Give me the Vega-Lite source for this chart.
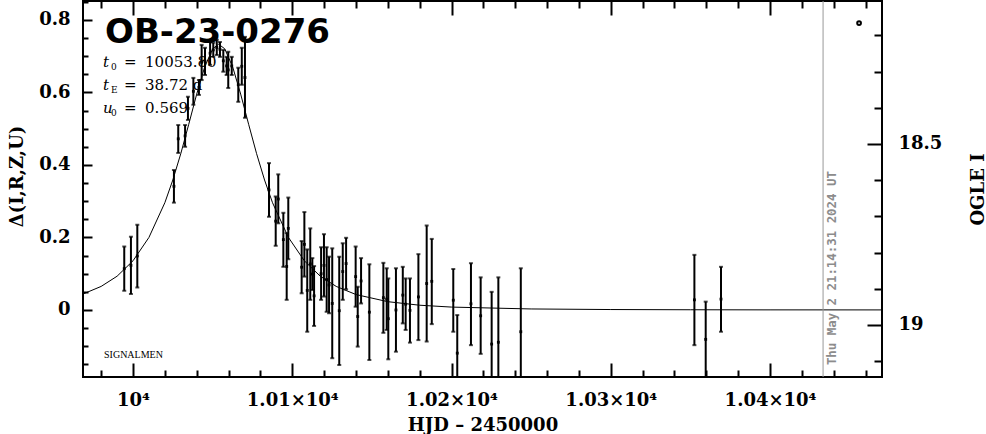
{
  "$schema": "https://vega.github.io/schema/vega-lite/v6.json",
  "width": 799,
  "height": 376,
  "autosize": {"type": "none"},
  "padding": {"left": 83, "top": 1, "right": 104, "bottom": 57},
  "background": "white",
  "config": {
    "view": {"stroke": "black", "strokeWidth": 2},
    "axis": {
      "grid": false, "domain": false, "tickColor": "black", "tickWidth": 2,
      "labelColor": "black", "titleColor": "black",
      "labelFont": "DejaVu Serif", "labelFontSize": 18, "labelFontWeight": "bold",
      "titleFont": "DejaVu Serif", "titleFontSize": 18, "titleFontWeight": "bold",
      "labelFlush": false, "labelOverlap": false
    }
  },
  "datasets": {
    "curve": [
      {"d": 9968.6, "v": 0.044}, {"d": 9980, "v": 0.065}, {"d": 9990, "v": 0.0931},
      {"d": 10000, "v": 0.1356}, {"d": 10010, "v": 0.2}, {"d": 10020, "v": 0.2958},
      {"d": 10025, "v": 0.3584}, {"d": 10030, "v": 0.4311}, {"d": 10035, "v": 0.512},
      {"d": 10040, "v": 0.5953}, {"d": 10045, "v": 0.67}, {"d": 10050, "v": 0.7202},
      {"d": 10053.8, "v": 0.7329}, {"d": 10057.6, "v": 0.7202}, {"d": 10062.6, "v": 0.67},
      {"d": 10067.6, "v": 0.5953}, {"d": 10072.6, "v": 0.512}, {"d": 10077.6, "v": 0.4311},
      {"d": 10082.6, "v": 0.3584}, {"d": 10087.6, "v": 0.2958}, {"d": 10097.6, "v": 0.2},
      {"d": 10107.6, "v": 0.1356}, {"d": 10117.6, "v": 0.0931}, {"d": 10127.6, "v": 0.065},
      {"d": 10140, "v": 0.0426}, {"d": 10160, "v": 0.0229}, {"d": 10180, "v": 0.0131},
      {"d": 10200, "v": 0.008}, {"d": 10250, "v": 0.0028}, {"d": 10300, "v": 0.0012},
      {"d": 10350, "v": 0.0006}, {"d": 10400, "v": 0.0003}, {"d": 10470.3, "v": 0.0002}
    ],
    "obs": [
      {"d": 9994.5, "v": 0.114, "lo": 0.053, "hi": 0.175},
      {"d": 9998.7, "v": 0.123, "lo": 0.044, "hi": 0.202},
      {"d": 10002.7, "v": 0.149, "lo": 0.062, "hi": 0.235},
      {"d": 10025.7, "v": 0.341, "lo": 0.296, "hi": 0.386},
      {"d": 10028.4, "v": 0.472, "lo": 0.433, "hi": 0.51},
      {"d": 10032.7, "v": 0.48, "lo": 0.45, "hi": 0.51},
      {"d": 10034.5, "v": 0.556, "lo": 0.524, "hi": 0.588},
      {"d": 10037.9, "v": 0.603, "lo": 0.566, "hi": 0.64},
      {"d": 10041.4, "v": 0.614, "lo": 0.593, "hi": 0.634},
      {"d": 10043.1, "v": 0.683, "lo": 0.634, "hi": 0.731},
      {"d": 10045.2, "v": 0.686, "lo": 0.648, "hi": 0.723},
      {"d": 10048.4, "v": 0.708, "lo": 0.676, "hi": 0.739},
      {"d": 10050.4, "v": 0.717, "lo": 0.698, "hi": 0.737},
      {"d": 10052.6, "v": 0.724, "lo": 0.703, "hi": 0.745},
      {"d": 10054.6, "v": 0.719, "lo": 0.698, "hi": 0.739},
      {"d": 10056.7, "v": 0.687, "lo": 0.657, "hi": 0.717},
      {"d": 10058.8, "v": 0.673, "lo": 0.648, "hi": 0.698},
      {"d": 10059.8, "v": 0.662, "lo": 0.612, "hi": 0.712},
      {"d": 10062.0, "v": 0.673, "lo": 0.648, "hi": 0.698},
      {"d": 10066.1, "v": 0.621, "lo": 0.574, "hi": 0.668},
      {"d": 10068.3, "v": 0.672, "lo": 0.621, "hi": 0.723},
      {"d": 10070.3, "v": 0.641, "lo": 0.53, "hi": 0.753},
      {"d": 10085.4, "v": 0.331, "lo": 0.257, "hi": 0.405},
      {"d": 10089.6, "v": 0.245, "lo": 0.177, "hi": 0.313},
      {"d": 10091.2, "v": 0.306, "lo": 0.239, "hi": 0.374},
      {"d": 10094.4, "v": 0.194, "lo": 0.119, "hi": 0.268},
      {"d": 10096.5, "v": 0.12, "lo": 0.028, "hi": 0.212},
      {"d": 10097.5, "v": 0.225, "lo": 0.14, "hi": 0.31},
      {"d": 10105.9, "v": 0.118, "lo": 0.046, "hi": 0.19},
      {"d": 10107.6, "v": 0.181, "lo": 0.092, "hi": 0.27},
      {"d": 10109.4, "v": 0.054, "lo": -0.06, "hi": 0.167},
      {"d": 10111.3, "v": 0.127, "lo": 0.028, "hi": 0.225},
      {"d": 10112.6, "v": 0.099, "lo": 0.055, "hi": 0.143},
      {"d": 10113.7, "v": 0.039, "lo": -0.044, "hi": 0.121},
      {"d": 10118.1, "v": 0.1, "lo": 0.028, "hi": 0.173},
      {"d": 10119.9, "v": 0.123, "lo": 0.037, "hi": 0.209},
      {"d": 10121.6, "v": 0.084, "lo": -0.005, "hi": 0.173},
      {"d": 10123.1, "v": 0.069, "lo": -0.009, "hi": 0.147},
      {"d": 10125.1, "v": 0.018, "lo": -0.133, "hi": 0.17},
      {"d": 10129.5, "v": -0.002, "lo": -0.152, "hi": 0.147},
      {"d": 10131.7, "v": 0.106, "lo": 0.028, "hi": 0.184},
      {"d": 10133.8, "v": 0.128, "lo": 0.057, "hi": 0.199},
      {"d": 10139.8, "v": 0.092, "lo": 0.009, "hi": 0.175},
      {"d": 10141.1, "v": -0.018, "lo": -0.101, "hi": 0.064},
      {"d": 10143.2, "v": 0.08, "lo": 0.018, "hi": 0.143},
      {"d": 10148.4, "v": -0.006, "lo": -0.138, "hi": 0.126},
      {"d": 10157.2, "v": 0.034, "lo": -0.063, "hi": 0.13},
      {"d": 10159.3, "v": 0.03, "lo": -0.055, "hi": 0.115},
      {"d": 10160.3, "v": -0.024, "lo": -0.136, "hi": 0.087},
      {"d": 10165.1, "v": 0.0, "lo": -0.115, "hi": 0.115},
      {"d": 10169.4, "v": 0.041, "lo": -0.037, "hi": 0.119},
      {"d": 10171.2, "v": 0.016, "lo": -0.055, "hi": 0.087},
      {"d": 10173.9, "v": -0.001, "lo": -0.09, "hi": 0.087},
      {"d": 10179.2, "v": 0.036, "lo": -0.083, "hi": 0.154},
      {"d": 10184.4, "v": 0.073, "lo": -0.087, "hi": 0.233},
      {"d": 10187.6, "v": 0.079, "lo": -0.039, "hi": 0.196},
      {"d": 10201.1, "v": 0.027, "lo": -0.06, "hi": 0.113},
      {"d": 10203.6, "v": -0.119, "lo": -0.225, "hi": -0.014},
      {"d": 10212.2, "v": 0.017, "lo": -0.097, "hi": 0.129},
      {"d": 10218.3, "v": -0.016, "lo": -0.121, "hi": 0.09},
      {"d": 10225.2, "v": -0.094, "lo": -0.238, "hi": 0.05},
      {"d": 10229.4, "v": -0.089, "lo": -0.268, "hi": 0.09},
      {"d": 10243.5, "v": -0.06, "lo": -0.235, "hi": 0.115},
      {"d": 10352.5, "v": 0.028, "lo": -0.097, "hi": 0.152},
      {"d": 10359.6, "v": -0.081, "lo": -0.185, "hi": 0.023},
      {"d": 10369.2, "v": 0.03, "lo": -0.06, "hi": 0.119}
    ],
    "params": [
      {"sym": "t", "sub": "0", "val": "10053.80", "d": 9981.2, "v": 0.67},
      {"sym": "t", "sub": "E", "val": "38.72 d", "d": 9981.2, "v": 0.607},
      {"sym": "u", "sub": "0", "val": "0.569", "d": 9981.2, "v": 0.543}
    ]
  },
  "layer": [
    {
      "data": {"name": "curve"},
      "mark": {"type": "line", "color": "black", "strokeWidth": 1, "clip": true},
      "encoding": {
        "x": {
          "field": "d", "type": "quantitative",
          "scale": {"domain": [9968.6, 10470.3], "nice": false, "zero": false},
          "axis": {
            "orient": "bottom",
            "values": [9980, 10000, 10020, 10040, 10060, 10080, 10100, 10120, 10140, 10160, 10180, 10200, 10220, 10240, 10260, 10280, 10300, 10320, 10340, 10360, 10380, 10400, 10420, 10440, 10460],
            "labelExpr": "datum.value % 100 == 0 ? (datum.value == 10000 ? '10⁴' : format(datum.value / 10000, '.2f') + '×10⁴') : ''",
            "tickSize": {"condition": {"test": "datum.value % 100 == 0", "value": -14}, "value": -7},
            "labelPadding": 28,
            "labelOverlap": false,
            "title": "HJD – 2450000",
            "titleY": 53, "titleBaseline": "alphabetic"
          }
        },
        "y": {
          "field": "v", "type": "quantitative",
          "scale": {"domain": [-0.1848, 0.852], "nice": false, "zero": false},
          "axis": {
            "orient": "left",
            "values": [-0.15, -0.1, -0.05, 0, 0.05, 0.1, 0.15, 0.2, 0.25, 0.3, 0.35, 0.4, 0.45, 0.5, 0.55, 0.6, 0.65, 0.7, 0.75, 0.8, 0.85],
            "labelExpr": "abs(datum.value * 5 - round(datum.value * 5)) < 0.001 ? (datum.value == 0 ? '0' : format(datum.value, '.1f')) : ''",
            "tickSize": {"condition": {"test": "abs(datum.value * 5 - round(datum.value * 5)) < 0.001", "value": -9}, "value": -5},
            "labelPadding": 22,
            "labelOverlap": false,
            "title": "Δ(I,R,Z,U)",
            "titleAngle": -90, "titleX": -66, "titleY": 175,
            "titleBaseline": "middle", "titleAlign": "center"
          }
        }
      }
    },
    {
      "data": {"name": "params"},
      "mark": {"type": "text", "align": "left", "baseline": "alphabetic", "font": "DejaVu Serif", "fontStyle": "italic", "fontSize": 15, "color": "black"},
      "encoding": {
        "x": {"field": "d", "type": "quantitative", "axis": null},
        "y": {"field": "v", "type": "quantitative", "axis": null, "scale": {"domain": [-0.1848, 0.852], "nice": false, "zero": false}},
        "text": {"field": "sym"}
      }
    },
    {
      "data": {"name": "params"},
      "mark": {"type": "text", "align": "left", "baseline": "alphabetic", "font": "DejaVu Serif", "fontSize": 9, "dx": 8, "dy": 3, "color": "black"},
      "encoding": {
        "x": {"field": "d", "type": "quantitative", "axis": null},
        "y": {"field": "v", "type": "quantitative", "axis": null, "scale": {"domain": [-0.1848, 0.852], "nice": false, "zero": false}},
        "text": {"field": "sub"}
      }
    },
    {
      "data": {"name": "params"},
      "mark": {"type": "text", "align": "left", "baseline": "alphabetic", "font": "DejaVu Serif", "fontSize": 15, "dx": 21, "color": "black", "text": "="},
      "encoding": {
        "x": {"field": "d", "type": "quantitative", "axis": null},
        "y": {"field": "v", "type": "quantitative", "axis": null, "scale": {"domain": [-0.1848, 0.852], "nice": false, "zero": false}}
      }
    },
    {
      "data": {"name": "params"},
      "mark": {"type": "text", "align": "left", "baseline": "alphabetic", "font": "DejaVu Serif", "fontSize": 15, "dx": 42, "color": "black"},
      "encoding": {
        "x": {"field": "d", "type": "quantitative", "axis": null},
        "y": {"field": "v", "type": "quantitative", "axis": null, "scale": {"domain": [-0.1848, 0.852], "nice": false, "zero": false}},
        "text": {"field": "val"}
      }
    },
    {
      "data": {"values": [{"label": "OB-23-0276", "d": 9982.4, "v": 0.7366}]},
      "mark": {"type": "text", "align": "left", "baseline": "alphabetic", "font": "DejaVu Sans", "fontWeight": "bold", "fontSize": 34, "color": "black"},
      "encoding": {
        "x": {"field": "d", "type": "quantitative", "axis": null},
        "y": {"field": "v", "type": "quantitative", "axis": null, "scale": {"domain": [-0.1848, 0.852], "nice": false, "zero": false}},
        "text": {"field": "label"}
      }
    },
    {
      "data": {"values": [{"label": "SIGNALMEN", "d": 9981.8, "v": -0.132}]},
      "mark": {"type": "text", "align": "left", "baseline": "alphabetic", "font": "Liberation Serif", "fontSize": 10, "color": "black"},
      "encoding": {
        "x": {"field": "d", "type": "quantitative", "axis": null},
        "y": {"field": "v", "type": "quantitative", "axis": null, "scale": {"domain": [-0.1848, 0.852], "nice": false, "zero": false}},
        "text": {"field": "label"}
      }
    },
    {
      "data": {"values": [{"d": 10433.3}]},
      "mark": {"type": "rule", "color": "#999999", "strokeWidth": 1},
      "encoding": {
        "x": {"field": "d", "type": "quantitative", "axis": null}
      }
    },
    {
      "data": {"values": [{"label": "Thu May  2 21:14:31 2024 UT", "d": 10433.3, "v": -0.152}]},
      "mark": {"type": "text", "align": "left", "baseline": "top", "angle": -90, "dy": 3, "font": "DejaVu Sans Mono", "fontWeight": "bold", "fontSize": 12.4, "color": "#8c8c8c"},
      "encoding": {
        "x": {"field": "d", "type": "quantitative", "axis": null},
        "y": {"field": "v", "type": "quantitative", "axis": null, "scale": {"domain": [-0.1848, 0.852], "nice": false, "zero": false}},
        "text": {"field": "label"}
      }
    },
    {
      "data": {"name": "obs"},
      "mark": {"type": "rule", "color": "black", "strokeWidth": 2, "clip": true},
      "encoding": {
        "x": {"field": "d", "type": "quantitative", "axis": null},
        "y": {"field": "lo", "type": "quantitative", "axis": null, "scale": {"domain": [-0.1848, 0.852], "nice": false, "zero": false}},
        "y2": {"field": "hi"}
      }
    },
    {
      "data": {"name": "obs"},
      "mark": {"type": "tick", "orient": "horizontal", "color": "black", "size": 4, "thickness": 2, "clip": true},
      "encoding": {
        "x": {"field": "d", "type": "quantitative", "axis": null},
        "y": {"field": "lo", "type": "quantitative", "axis": null, "scale": {"domain": [-0.1848, 0.852], "nice": false, "zero": false}}
      }
    },
    {
      "data": {"name": "obs"},
      "mark": {"type": "tick", "orient": "horizontal", "color": "black", "size": 4, "thickness": 2, "clip": true},
      "encoding": {
        "x": {"field": "d", "type": "quantitative", "axis": null},
        "y": {"field": "hi", "type": "quantitative", "axis": null, "scale": {"domain": [-0.1848, 0.852], "nice": false, "zero": false}}
      }
    },
    {
      "data": {"name": "obs"},
      "mark": {"type": "point", "shape": "square", "filled": true, "color": "black", "size": 8, "opacity": 1, "clip": true},
      "encoding": {
        "x": {"field": "d", "type": "quantitative", "axis": null},
        "y": {"field": "v", "type": "quantitative", "axis": null, "scale": {"domain": [-0.1848, 0.852], "nice": false, "zero": false}}
      }
    },
    {
      "data": {"values": [{"d": 10455.9, "mag": 18.166}]},
      "mark": {"type": "point", "shape": "circle", "filled": false, "color": "black", "strokeWidth": 2, "size": 14, "opacity": 1},
      "encoding": {
        "x": {
          "field": "d", "type": "quantitative",
          "axis": {
            "orient": "top",
            "values": [9980, 10000, 10020, 10040, 10060, 10080, 10100, 10120, 10140, 10160, 10180, 10200, 10220, 10240, 10260, 10280, 10300, 10320, 10340, 10360, 10380, 10400, 10420, 10440, 10460],
            "labels": false,
            "tickSize": {"condition": {"test": "datum.value % 100 == 0", "value": -14}, "value": -7},
            "title": null
          }
        },
        "y": {
          "field": "mag", "type": "quantitative",
          "scale": {"domain": [18.105, 19.144], "reverse": true, "nice": false, "zero": false},
          "axis": {
            "orient": "right",
            "values": [18.2, 18.3, 18.4, 18.5, 18.6, 18.7, 18.8, 18.9, 19.0, 19.1],
            "labelExpr": "abs(datum.value * 2 - round(datum.value * 2)) < 0.001 ? (datum.value > 18.9 ? '19' : '18.5') : ''",
            "tickSize": {"condition": {"test": "abs(datum.value * 2 - round(datum.value * 2)) < 0.001", "value": -15}, "value": -8},
            "labelPadding": 31,
            "labelOverlap": false,
            "title": "OGLE I",
            "titleAngle": -90, "titleX": 96, "titleY": 188,
            "titleBaseline": "middle", "titleAlign": "center"
          }
        }
      }
    }
  ],
  "resolve": {"scale": {"y": "independent"}, "axis": {"x": "independent", "y": "independent"}}
}
